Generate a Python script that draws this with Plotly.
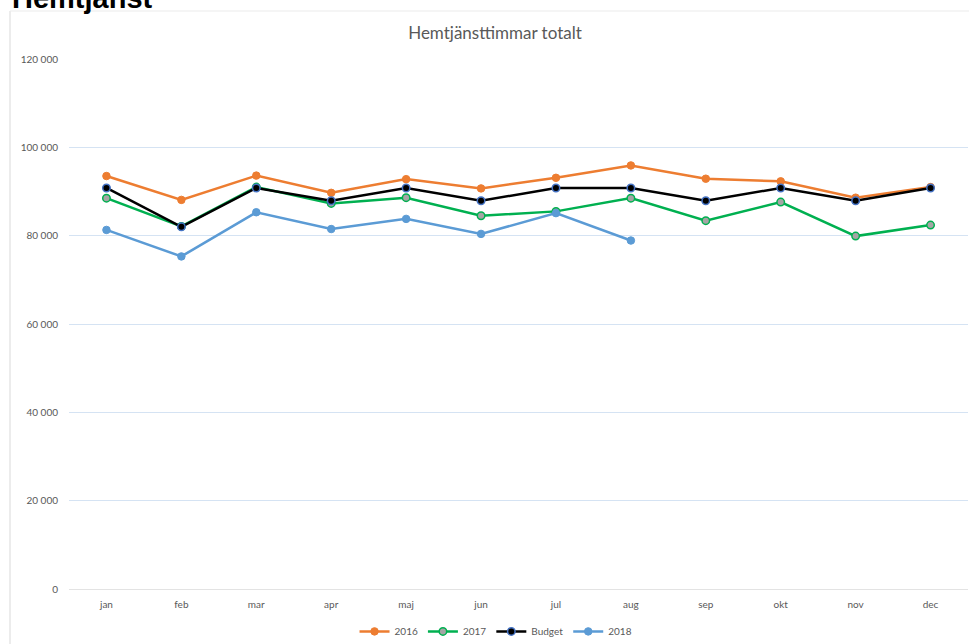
import plotly.graph_objects as go

months = ["jan", "feb", "mar", "apr", "maj", "jun", "jul", "aug", "sep", "okt", "nov", "dec"]
y2016 = [93500, 88100, 93600, 89700, 92800, 90700, 93100, 95900, 92900, 92300, 88600, 91000]
y2017 = [88500, 82100, 91000, 87300, 88600, 84500, 85500, 88500, 83400, 87600, 79900, 82400]
budget = [90800, 82000, 90800, 87900, 90800, 87900, 90800, 90800, 87900, 90800, 87900, 90800]
y2018 = [81300, 75300, 85300, 81500, 83800, 80400, 85100, 78900]

ytick_vals = [0, 20000, 40000, 60000, 80000, 100000, 120000]
ytick_text = ["0", "20 000", "40 000", "60 000", "80 000", "100 000", "120 000"]

title_text = "Hemtjänsttimmar totalt"
header_text = "Hemtjänst"

FONT = "Lato, 'Open Sans', sans-serif"
GREY = "#595959"

fig = go.Figure()
fig.add_trace(go.Scatter(x=months, y=y2016, name="2016", mode="lines+markers",
                         line=dict(color="#ED7D31", width=2.5),
                         marker=dict(size=7.5, color="#ED7D31", line=dict(color="#ED7D31", width=1))))
fig.add_trace(go.Scatter(x=months, y=y2017, name="2017", mode="lines+markers",
                         line=dict(color="#00B050", width=2.5),
                         marker=dict(size=7.5, color="#A5A5A5", line=dict(color="#00B050", width=1.5))))
fig.add_trace(go.Scatter(x=months, y=budget, name="Budget", mode="lines+markers",
                         line=dict(color="#000000", width=2.5),
                         marker=dict(size=7.5, color="#000000", line=dict(color="#4472C4", width=1.5))))
fig.add_trace(go.Scatter(x=months[:len(y2018)], y=y2018, name="2018", mode="lines+markers",
                         line=dict(color="#5B9BD5", width=2.5),
                         marker=dict(size=7.5, color="#5B9BD5", line=dict(color="#5B9BD5", width=1))))

fig.update_layout(
    width=969, height=644,
    margin=dict(l=69, r=1, t=59, b=55, autoexpand=False),
    paper_bgcolor="white", plot_bgcolor="white",
    font=dict(family=FONT, size=10, color=GREY),
    title=dict(text=title_text, x=495 / 969, xanchor="center", y=1 - 33 / 644, yanchor="middle",
               font=dict(family=FONT, size=17, color=GREY)),
    showlegend=True,
    legend=dict(orientation="h", x=0.475, xanchor="center", y=-0.08, yanchor="middle",
                font=dict(family=FONT, size=10, color=GREY), itemwidth=30, tracegroupgap=0),
    xaxis=dict(range=[-0.5, 11.5], showgrid=False, showline=False, ticks="",
               ticklabelstandoff=8,
               tickfont=dict(size=10, color=GREY), automargin=False),
    yaxis=dict(range=[0, 120000], tickvals=ytick_vals, ticktext=ytick_text,
               showgrid=True, gridcolor="#D5E3F3", gridwidth=1,
               zeroline=True, zerolinecolor="#E3E3E3", zerolinewidth=1,
               showline=False, ticks="", ticklabelstandoff=10, automargin=False,
               tickfont=dict(size=10, color=GREY)),
)

# outer chart frame (left and top edges)
fig.add_shape(type="line", xref="paper", yref="paper",
              x0=(10 - 69) / 899, x1=(10 - 69) / 899, y0=(589 - 650) / 530, y1=(589 - 11) / 530,
              line=dict(color="#D9D9D9", width=1))
fig.add_shape(type="line", xref="paper", yref="paper",
              x0=(10 - 69) / 899, x1=1.01, y0=(589 - 11) / 530, y1=(589 - 11) / 530,
              line=dict(color="#EBEBEB", width=1))

fig.add_annotation(text="<b>" + header_text + "</b>", xref="paper", yref="paper",
                   x=(10 - 69) / 899, xanchor="left", y=(589 + 2) / 530, yanchor="middle",
                   showarrow=False, font=dict(family="'Liberation Sans', Arial, sans-serif", size=29, color="#000000"))

fig.write_html("out.html", config={"displayModeBar": False, "staticPlot": True},
               post_script="document.body.style.margin='0';document.body.style.overflow='hidden';")
